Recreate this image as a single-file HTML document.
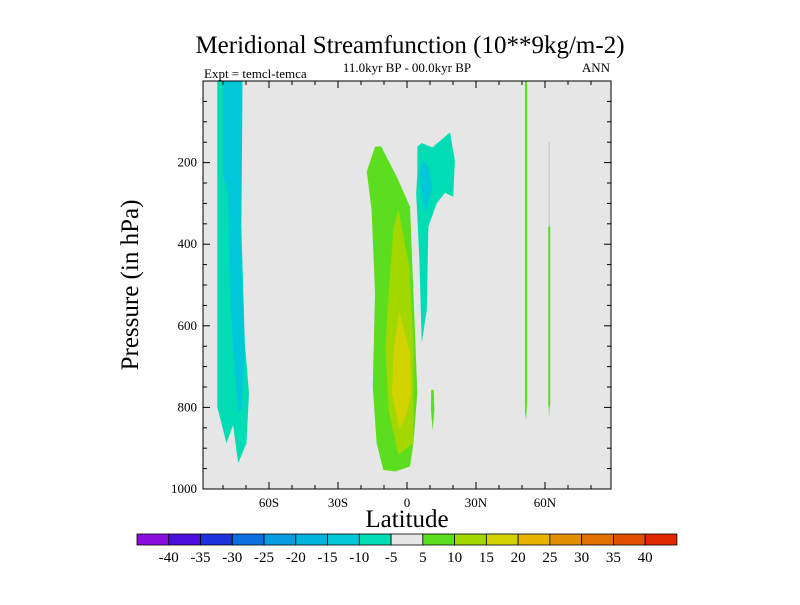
<!DOCTYPE html>
<html><head><meta charset="utf-8"><style>
body{margin:0;background:#fff}
svg text{font-family:"Liberation Serif",serif;fill:#000}
</style></head><body>
<svg id="c" width="800" height="600" xmlns="http://www.w3.org/2000/svg">
<text x="410" y="53" font-size="25" text-anchor="middle">Meridional Streamfunction (10**9kg/m-2)</text>
<text x="407" y="72" font-size="13" text-anchor="middle">11.0kyr BP - 00.0kyr BP</text>
<text x="204" y="78" font-size="13">Expt = temcl-temca</text>
<text x="610" y="72" font-size="13" text-anchor="end">ANN</text>
<text transform="translate(138,285) rotate(-90)" font-size="25" text-anchor="middle">Pressure (in hPa)</text>
<text x="407" y="527" font-size="25" text-anchor="middle">Latitude</text>
<defs><clipPath id="pc"><rect x="203" y="81" width="408" height="408"/></clipPath></defs>
<rect x="203" y="81" width="408" height="408" fill="#e6e6e6"/>
<g id="fills" clip-path="url(#pc)"></g>
<g id="axes"></g>
<g id="cbar"></g>
</svg>
<script>
const xTickLats=[-60,-30,0,30,60];
const xTickLabels=["60S","30S","0","30N","60N"];
const yTickVals=[200,400,600,800,1000];
const levels=[-40,-35,-30,-25,-20,-15,-10,-5,5,10,15,20,25,30,35,40];
const levelColors=["#8a0fdc","#4a0fdc","#1e32dc","#0a6ee0","#0a9ce0","#00b4dc","#00c8d8","#00dcb4","#e6e6e6","#5ade1e","#a2d800","#d2d200","#e6b400","#e09000","#e07000","#e05000","#e02800"];
// contour regions: [lat, pressure] pairs, with value class
const regionValues=[-10,-15,5,10,15,-10,-15,5,5,5];
const regionShapes=[
[[-82.5,0],[-71.5,0],[-72,357],[-70.5,643],[-68.7,765],[-69.8,888],[-73.4,937],[-75.6,843],[-78.5,888],[-82.5,798]],
[[-80,0],[-71.8,0],[-72.3,412],[-70.5,657],[-72,804],[-73.4,812],[-75.6,657],[-77.1,494],[-77.8,273],[-80,233]],
[[-17.5,222],[-13.9,161],[-11.3,160],[-4.5,234],[1.3,308],[2.8,520],[4.5,765],[2.8,888],[1.3,945],[-5.2,957],[-10.3,953],[-13.2,888],[-14.9,749],[-13.9,520],[-15.4,316]],
[[-3.7,316],[1,455],[2.8,657],[2.8,888],[-3.7,917],[-8,806],[-9.4,657],[-8,520],[-5.8,357]],
[[-3.3,565],[1.3,667],[1.8,765],[-0.1,814],[-3.3,855],[-6.5,765],[-5.8,658]],
[[4.5,161],[6.4,152],[11,163],[18.7,126],[20.8,194],[20.1,284],[16.5,274],[12.9,300],[9.3,357],[8.6,561],[6.4,643],[5.4,438],[4,275],[4.5,226]],
[[7.1,194],[9.3,210],[11.2,259],[9.3,292],[8,324],[6.4,284],[5.4,226]],
[[10.5,757],[11.6,757],[11.9,806],[11.2,857],[10.4,806]],
[[51.3,0],[52.2,0],[52.2,790],[51.8,830],[51.3,812]],
[[61.4,357],[62.3,357],[62.3,790],[61.8,810],[61.4,790]]
];
const thinLine=[[61.8,150],[61.8,820]];
const NS="http://www.w3.org/2000/svg";
const X=lat=>407+lat*2.3, Y=p=>81+p*0.408;
function colorFor(v){let i=levels.findIndex(l=>l>v);if(i<0)i=levels.length;return levelColors[i];}
const fills=document.getElementById('fills');
const tl=document.createElementNS(NS,'line');
tl.setAttribute('x1',X(thinLine[0][0]));tl.setAttribute('x2',X(thinLine[1][0]));
tl.setAttribute('y1',Y(thinLine[0][1]));tl.setAttribute('y2',Y(thinLine[1][1]));
tl.setAttribute('stroke','#a8c8a0');tl.setAttribute('stroke-width','0.8');


fills.appendChild(tl);
regionShapes.forEach((s,i)=>{
 const p=document.createElementNS(NS,'polygon');
 p.setAttribute('points',s.map(q=>X(q[0])+','+Y(q[1])).join(' '));
 p.setAttribute('fill',colorFor(regionValues[i]));
 
 
 fills.appendChild(p);
});
const ax=document.getElementById('axes');
function ln(x1,y1,x2,y2,w){const l=document.createElementNS(NS,'line');l.setAttribute('x1',x1);l.setAttribute('y1',y1);l.setAttribute('x2',x2);l.setAttribute('y2',y2);l.setAttribute('stroke','#000');l.setAttribute('stroke-width',w||1);


ax.appendChild(l);}
const fr=document.createElementNS(NS,'rect');
fr.setAttribute('x',203);fr.setAttribute('y',81);fr.setAttribute('width',408);fr.setAttribute('height',408);fr.setAttribute('fill','none');fr.setAttribute('stroke','#000');


ax.appendChild(fr);
for(let lat=-80;lat<=80;lat+=10){const maj=lat%30===0;const L=maj?7:4;ln(X(lat),489,X(lat),489-L);ln(X(lat),81,X(lat),81+L);}
for(let p=50;p<1000;p+=50){const maj=p%200===0;const L=maj?7:4;ln(203,Y(p),203+L,Y(p));ln(611,Y(p),611-L,Y(p));}
function tx(x,y,s,a,fs,name){const t=document.createElementNS(NS,'text');t.setAttribute('x',x);t.setAttribute('y',y);t.setAttribute('text-anchor',a);t.setAttribute('font-size',fs);t.textContent=s;


return t;}
xTickLats.forEach((l,i)=>ax.appendChild(tx(X(l),507,xTickLabels[i],'middle',13,'x-tick-label')));
yTickVals.forEach(v=>ax.appendChild(tx(197,Y(v)+4,String(v),'end',13,'y-tick-label')));
const cb=document.getElementById('cbar');
levelColors.forEach((c,i)=>{const r=document.createElementNS(NS,'rect');r.setAttribute('x',137+i*31.76);r.setAttribute('y',534);r.setAttribute('width',31.76);r.setAttribute('height',11);r.setAttribute('fill',c);r.setAttribute('stroke','#000');r.setAttribute('stroke-width','0.8');


cb.appendChild(r);});
levels.forEach((v,i)=>cb.appendChild(tx(137+(i+1)*31.76,562,String(v),'middle',15,'colorbar-label')));
</script>
</body></html>
